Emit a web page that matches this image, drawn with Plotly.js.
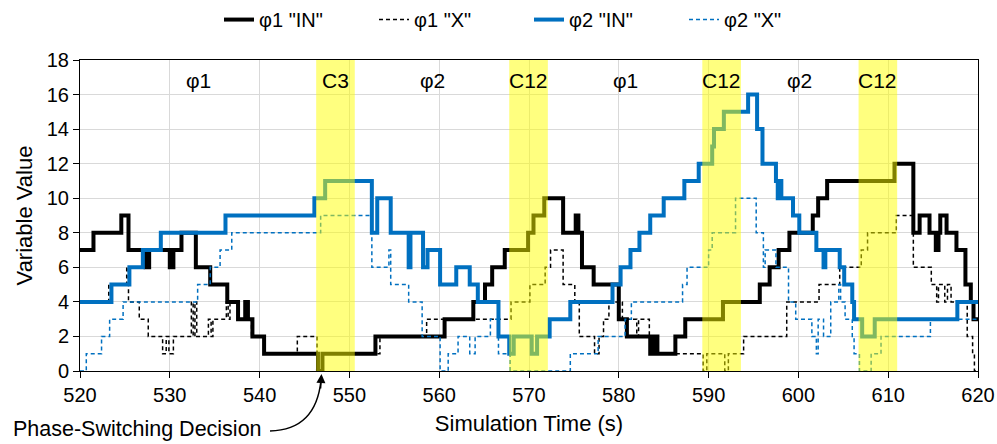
<!DOCTYPE html>
<html>
<head>
<meta charset="utf-8">
<script src="https://cdn.plot.ly/plotly-3.0.1.min.js"></script>
<style>html,body{margin:0;padding:0;background:#fff;}#chart{width:997px;height:444px;}</style>
</head>
<body>
<div id="chart"></div>
<script>
// ---- data ----
const seriesNames = ['\u03c61 "IN"', '\u03c61 "X"', '\u03c62 "IN"', '\u03c62 "X"'];

const phi1InT = [520, 521.5, 524.6, 525.4, 527.3, 527.7, 530.0, 530.4, 531.3, 532.9, 534.5, 536.4, 537.6, 538.4, 538.7, 539.2, 540.5, 546.5, 547.0, 552.9, 560.6, 563.8, 565.1, 565.9, 567.3, 569.9, 570.5, 571.7, 573.8, 575.2, 575.5, 575.9, 577.2, 580.0, 580.9, 583.5, 583.9, 584.3, 586.3, 587.4, 591.6, 595.7, 596.8, 597.8, 599.0, 601.6, 602.2, 603.2, 610.7, 612.8, 613.5, 614.6, 615.3, 615.6, 615.8, 616.5, 617.6, 618.6, 619.2, 619.5, 620];
const phi1InV = [7, 8, 9, 7, 6, 7, 6, 7, 8, 6, 5, 4, 3, 4, 3, 2, 1, 0, 1, 2, 3, 4, 5, 6, 7, 8, 9, 10, 8, 9, 8, 6, 5, 3, 2, 1, 2, 1, 2, 3, 4, 5, 6, 7, 8, 9, 10, 11, 12, 8, 9, 8, 7, 8, 9, 8, 7, 5, 4, 3, 3];

const phi1XT = [520, 523.2, 525.2, 525.4, 526.6, 527.6, 529.2, 529.6, 529.9, 530.4, 532.4, 532.6, 532.8, 533.0, 534.3, 534.6, 534.8, 536.3, 536.5, 536.7, 537.6, 539.1, 540.6, 544.2, 546.4, 547.0, 553.4, 558.6, 568.0, 570.1, 571.8, 572.4, 573.8, 575.1, 575.6, 577.3, 577.8, 578.3, 578.9, 580.4, 582.0, 582.2, 583.4, 583.8, 589.4, 589.8, 591.8, 592.2, 593.9, 598.7, 602.3, 604.6, 607.0, 607.7, 610.9, 612.8, 614.8, 615.4, 615.6, 616.3, 616.6, 617.0, 618.8, 619.4, 619.6, 620];
const phi1XV = [4, 5, 6, 4, 3, 2, 1, 2, 1, 2, 4, 2, 4, 2, 3, 2, 3, 4, 3, 4, 3, 2, 1, 2, 0, 1, 2, 3, 4, 5, 6, 7, 5, 4, 2, 1, 2, 3, 4, 3, 2, 3, 2, 1, 0, 1, 0, 1, 2, 4, 5, 6, 7, 8, 9, 6, 5, 4, 5, 4, 5, 4, 2, 1, 0, 0];

const phi2InT = [520, 523.5, 525.5, 527.0, 529.0, 536.2, 546.1, 547.3, 552.5, 553.1, 554.6, 556.6, 556.8, 558.2, 558.7, 560.1, 561.9, 563.4, 564.3, 566.6, 567.8, 568.3, 570.3, 570.9, 572.3, 574.6, 579.3, 580.2, 581.3, 582.3, 583.5, 585.0, 587.3, 588.9, 590.4, 590.6, 591.7, 594.4, 595.4, 596.0, 597.5, 597.7, 597.9, 598.1, 599.4, 600.1, 602.0, 602.8, 603.0, 604.6, 605.1, 606.0, 606.2, 607.1, 608.5, 617.7, 620];
const phi2InV = [4, 5, 6, 7, 8, 9, 10, 11, 8, 10, 8, 6, 8, 6, 7, 5, 6, 5, 4, 2, 1, 2, 1, 2, 3, 4, 5, 6, 7, 8, 9, 10, 11, 12, 13, 14, 15, 16, 14, 12, 11, 10, 11, 10, 9, 8, 7, 6, 7, 6, 5, 4, 3, 2, 3, 4, 4];

const phi2XT = [520, 520.7, 522.4, 523.3, 524.8, 533.1, 534.5, 535.6, 536.9, 546.8, 552.5, 554.4, 554.6, 556.6, 558.1, 560.1, 561.0, 562.1, 563.4, 564.0, 565.7, 566.6, 567.9, 574.6, 577.7, 580.7, 581.4, 587.1, 587.6, 590.0, 590.4, 593.0, 595.3, 596.1, 596.3, 597.5, 598.9, 599.7, 601.5, 602.0, 602.2, 602.8, 603.6, 604.5, 604.7, 605.2, 606.0, 606.2, 606.8, 608.1, 609.2, 614.7, 620];
const phi2XV = [0, 1, 2, 3, 4, 5, 6, 7, 8, 9, 6, 7, 5, 4, 2, 0, 1, 2, 1, 2, 3, 1, 0, 1, 2, 3, 4, 5, 6, 7, 8, 10, 8, 6, 7, 6, 4, 3, 2, 1, 3, 2, 4, 5, 4, 3, 2, 1, 0, 1, 2, 3, 3];

// switching windows and phase labels
const bandStart = [546.3, 567.8, 589.3, 606.7];
const bandEnd = [550.6, 572.1, 593.6, 611.0];
const bandLabels = ['C3', 'C12', 'C12', 'C12'];
const phaseLabels = ['\u03c61', '\u03c62', '\u03c61', '\u03c62'];
const xTicks = [520, 530, 540, 550, 560, 570, 580, 590, 600, 610, 620];
const yTicks = [0, 2, 4, 6, 8, 10, 12, 14, 16, 18];
const decisionText = 'Phase-Switching Decision';

// ---- chart ----
const FONT = '"Liberation Sans", Arial, sans-serif';
const BLUE = '#0070C0';

const traces = [
  {x: phi1InT, y: phi1InV, name: seriesNames[0], mode: 'lines', line: {shape: 'hv', color: '#000000', width: 4}},
  {x: phi1XT, y: phi1XV, name: seriesNames[1], mode: 'lines', line: {shape: 'hv', color: '#000000', width: 1.5, dash: '4px,3px'}},
  {x: phi2InT, y: phi2InV, name: seriesNames[2], mode: 'lines', line: {shape: 'hv', color: BLUE, width: 4}},
  {x: phi2XT, y: phi2XV, name: seriesNames[3], mode: 'lines', line: {shape: 'hv', color: BLUE, width: 1.5, dash: '4px,3px'}}
];

const shapes = bandStart.map((s, i) => ({
  type: 'rect', xref: 'x', yref: 'paper', x0: s, x1: bandEnd[i], y0: 0, y1: 1,
  fillcolor: 'rgba(255,255,0,0.5)', line: {width: 0}, layer: 'above'
}));
// curved pointer for the annotation (paper coords)
shapes.push({
  type: 'path', xref: 'paper', yref: 'paper',
  path: 'M0.2116,-0.1929 Q0.2628,-0.1897 0.2684,-0.0290',
  line: {color: '#000', width: 1.5}
});

const annotations = [];
bandStart.forEach((s, i) => {
  annotations.push({x: (s + bandEnd[i]) / 2, y: 16.8, xref: 'x', yref: 'y', text: bandLabels[i],
    showarrow: false, font: {family: FONT, size: 21, color: '#000'}});
  const prevEnd = i === 0 ? 520 : bandEnd[i - 1];
  annotations.push({x: (prevEnd + s) / 2, y: 16.8, xref: 'x', yref: 'y', text: phaseLabels[i],
    showarrow: false, font: {family: FONT, size: 21, color: '#000'}});
});
annotations.push({
  x: 0.2049, y: -0.1865, xref: 'paper', yref: 'paper', xanchor: 'right', yanchor: 'middle',
  text: decisionText, showarrow: false, font: {family: FONT, size: 21.5, color: '#000'}
});
annotations.push({
  x: 0.2689, y: -0.0096, xref: 'paper', yref: 'paper', text: '', showarrow: true,
  ax: -1, ay: 16, arrowhead: 2, arrowsize: 1.2, arrowwidth: 1.5, arrowcolor: '#000'
});

const layout = {
  width: 997, height: 444,
  margin: {l: 80, r: 19, t: 60, b: 73, autoexpand: false},
  paper_bgcolor: '#fff', plot_bgcolor: '#fff',
  font: {family: FONT, size: 20, color: '#000'},
  showlegend: true,
  legend: {orientation: 'h', x: 0.50, xanchor: 'center', y: 1.13, yanchor: 'middle',
    font: {family: FONT, size: 20, color: '#000'}, bgcolor: 'rgba(0,0,0,0)', entrywidth: 110},
  xaxis: {
    range: [520, 620], tickmode: 'array', tickvals: xTicks, ticktext: xTicks.map(String),
    showgrid: true, gridcolor: '#d9d9d9', gridwidth: 1, zeroline: false,
    showline: true, linecolor: '#000', linewidth: 1, mirror: true,
    ticks: 'outside', ticklen: 6, tickcolor: '#000',
    tickfont: {family: FONT, size: 20, color: '#000'},
    title: {text: 'Simulation Time (s)', font: {family: FONT, size: 22, color: '#000'}, standoff: 10}
  },
  yaxis: {
    range: [0, 18], tickmode: 'array', tickvals: yTicks, ticktext: yTicks.map(String),
    showgrid: true, gridcolor: '#d9d9d9', gridwidth: 1, zeroline: false,
    showline: true, linecolor: '#000', linewidth: 1, mirror: true,
    ticks: 'outside', ticklen: 6, tickcolor: '#000',
    tickfont: {family: FONT, size: 20, color: '#000'},
    title: {text: 'Variable Value', font: {family: FONT, size: 22, color: '#000'}, standoff: 8}
  },
  shapes: shapes,
  annotations: annotations
};

Plotly.newPlot('chart', traces, layout, {staticPlot: true, displayModeBar: false});
</script>
</body>
</html>
